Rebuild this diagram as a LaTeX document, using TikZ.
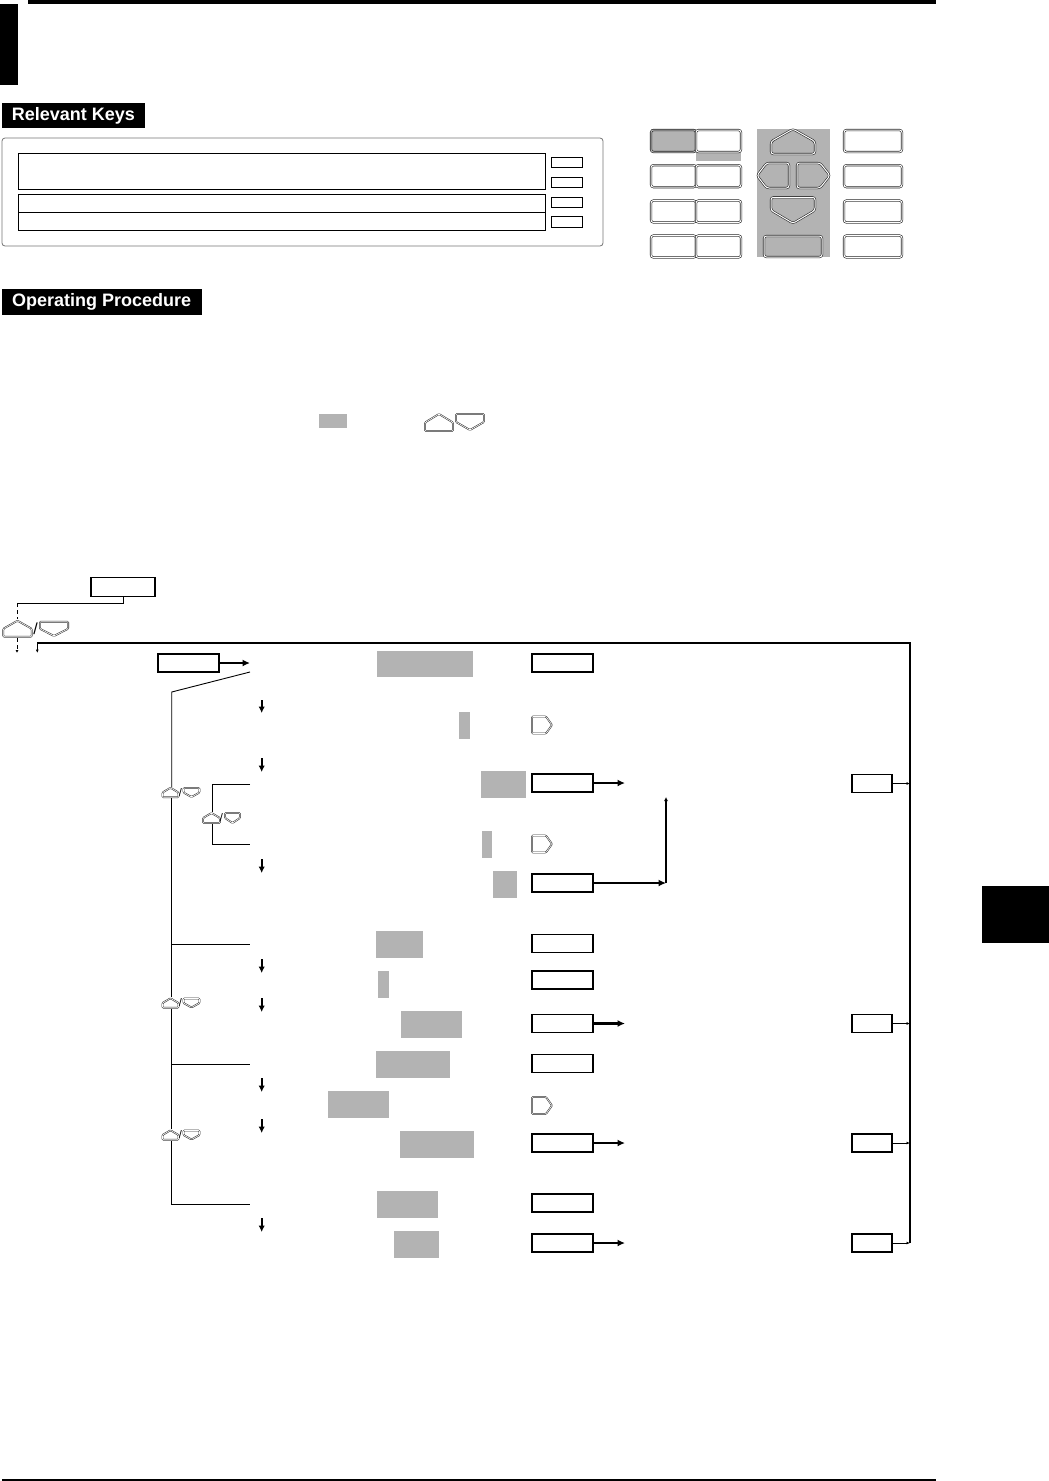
\documentclass[tikz,border=0pt]{standalone}
\usepackage{fontspec}
\setmainfont{Liberation Sans}
\usepackage{tikz}
\usetikzlibrary{arrows.meta,positioning,calc}
\definecolor{keyGray}{HTML}{B3B3B3}

\tikzset{
  upkey/.pic={\path[pic actions] (-0.5,0.5) -- (-0.5,0) -- (0,-0.5) -- (0.5,0) -- (0.5,0.5) -- cycle;},
  downkey/.pic={\path[pic actions] (-0.5,-0.5) -- (0.5,-0.5) -- (0.5,0) -- (0,0.5) -- (-0.5,0) -- cycle;},
  leftkey/.pic={\path[pic actions] (0.5,-0.5) -- (0.5,0.5) -- (-0.2,0.5) -- (-0.5,0) -- (-0.2,-0.5) -- cycle;},
  rightkey/.pic={\path[pic actions] (-0.5,-0.5) -- (0.2,-0.5) -- (0.5,0) -- (0.2,0.5) -- (-0.5,0.5) -- cycle;},
}

\begin{document}
\begin{tikzpicture}[x=1pt, y=-1pt,
  keycap/.style={draw=black!85, double=white, double distance=1pt,
                 line width=0.6pt, rounded corners=2.5pt, inner sep=0},
  iconcap/.style={draw=black!80, double=white, double distance=0.6pt,
                  line width=0.55pt, rounded corners=1pt},
  menubox/.style={draw, line width=1.1pt, minimum width=61pt,
                  minimum height=18pt, inner sep=0},
  tagbox/.style={menubox, minimum width=40pt},
  hilite/.style={fill=keyGray},
  flow/.style={line width=0.9pt},
  thickarrow/.style={line width=2.8pt, -{Latex[length=7.5pt,width=7pt]}},
  downarrow/.style={line width=2.3pt, -{Latex[length=6.5pt,width=6.5pt]}},
  stub/.style={line width=0.9pt, -{Latex[length=3.5pt,width=3pt]}},
  heading/.style={fill=black, text=white, inner sep=0, minimum height=25pt,
                  font=\bfseries\fontsize{18}{20}\selectfont},
  slash/.style={inner sep=0, font=\fontsize{11}{11}\selectfont},
]
\useasboundingbox (0,0) rectangle (1049,1481);

% page furniture
\fill (0,4) rectangle (18,85);
\fill (28,0) rectangle (936,4);
\fill (982,886) rectangle (1049,943);
\fill (2,1479.3) rectangle (936,1481);

% relevant keys
\node[heading, minimum width=143pt] (keysHead) at (73.5,115.5) {Relevant Keys};
\draw[black!55, line width=0.8pt, rounded corners=3pt] (2,138) rectangle (603,246);
\draw[line width=0.8pt] (18.6,153) rectangle (545,189);
\draw[line width=0.8pt] (18.6,194) rectangle (545,230);
\draw[line width=0.8pt] (18.6,212) -- (545,212);
\foreach \ya/\yb in {157/167,177/187,197/207,216/227}
  \draw[line width=0.8pt] (551,\ya) rectangle (582,\yb);

% keypad
\fill[keyGray] (651,129) rectangle (696,152);
\fill[keyGray] (696,152) rectangle (741,161);
\fill[keyGray] (757,129) rectangle (830,257);
\foreach \row/\y/\shade in {1/141/keyGray, 2/176.2/white, 3/211.5/white, 4/246.5/white} {
  \node[keycap, fill=\shade, double=\shade, minimum width=45pt, minimum height=22pt] (numA\row) at (673.5,\y) {};
  \node[keycap, fill=white, minimum width=45pt, minimum height=22pt] (numB\row) at (718.5,\y) {};
  \node[keycap, fill=white, minimum width=58pt, minimum height=22pt] (fnKey\row) at (873,\y) {};
}
\pic[keycap, fill=keyGray, xscale=44, yscale=25] at (793,141.5) {upkey};
\pic[keycap, fill=keyGray, xscale=32, yscale=25] at (773,175.5) {leftkey};
\pic[keycap, fill=keyGray, xscale=33, yscale=25] at (813.5,175.5) {rightkey};
\pic[keycap, fill=keyGray, xscale=44, yscale=26] at (793,210.3) {downkey};
\node[keycap, fill=keyGray, minimum width=58pt, minimum height=21pt] (enterKey) at (793,246.5) {};

% operating procedure
\node[heading, minimum width=200pt, minimum height=26pt] (procHead) at (101.7,302) {Operating Procedure};
\fill[hilite] (319,414) rectangle (347,428);
\pic[iconcap, xscale=28, yscale=17] at (439,422.5) {upkey};
\pic[iconcap, xscale=28, yscale=16] at (470,422) {downkey};

% entry into the menu
\node[menubox, line width=1.5pt, minimum width=64pt, minimum height=19pt] (dispKey) at (123,587) {};
\coordinate (selTop) at (17,603);
\coordinate (retTop) at (910,643);
\coordinate (retBot) at (910,1243);
\draw[flow] (dispKey.south) |- (selTop);
\draw[flow, dash pattern=on 4pt off 3pt] (selTop) -- (17,619);
\pic[iconcap, xscale=28.4, yscale=16] at (17.5,628.7) {upkey};
\node[slash, font=\fontsize{16}{16}\selectfont] (selSlash) at (35.5,628.5) {/};
\pic[iconcap, xscale=28.3, yscale=14.3] at (54,628.8) {downkey};
\draw[flow, dash pattern=on 4pt off 3pt, -{Latex[length=3pt,width=3pt]}] (17,638) -- (17,653);
\draw[line width=1.1pt, -{Latex[length=3.5pt,width=3pt]}] (retBot) -- (retTop) -| (37.3,653);

% main bracket
\node[menubox] (stepStart) at (188.5,663) {};
\coordinate (goStart) at (250,663);
\draw[thickarrow] (stepStart.east) -- (goStart);
\draw[flow] (250,672) -- (171.7,692) -- (171.7,787);
\draw[flow] (171.7,798) -- (171.7,997);
\draw[flow] (171.7,944) -- (250,944);
\draw[flow] (171.7,1009) -- (171.7,1129);
\draw[flow] (171.7,1064) -- (250,1064);
\draw[flow] (171.7,1141) -- (171.7,1204) -- (250,1204);
\draw[flow] (250,784) -| (212.7,812);
\draw[flow] (212.7,824) |- (250,844);
\foreach \y in {792.5, 1003, 1135} {
  \pic[iconcap, xscale=16, yscale=9.5] at (170.5,\y) {upkey};
  \node[slash] at (180.5,\y) {/};
  \pic[iconcap, xscale=16, yscale=9] at (191.5,\y) {downkey};
}
\pic[iconcap, xscale=17, yscale=10] at (211.5,818) {upkey};
\node[slash] (innerSlash) at (221.5,818) {/};
\pic[iconcap, xscale=15, yscale=10] at (232.5,818) {downkey};
\foreach \ya/\yb in {700/713, 758/772, 859/873, 959/973, 998/1012, 1078/1092, 1119/1133, 1218/1232}
  \draw[downarrow] (261.7,\ya) -- (261.7,\yb);

% highlighted settings
\foreach \xa/\ya/\xb/\yb in {376.7/651/473/677, 459/712/470/739, 480.7/771/525.7/797.7,
    482/830.7/492/857.7, 493/871/517/898, 376/931/423/957.7, 378/971/388.7/997.7,
    401/1011/461.7/1037.7, 376/1051/450/1077.7, 328/1091/388.7/1117.7,
    400/1131/473.7/1157.7, 377/1191/437.7/1217.7, 394/1231/438.7/1257.7}
  \fill[hilite] (\xa,\ya) rectangle (\xb,\yb);

% key column
\foreach \n/\y in {1/663, 2/783, 3/883, 4/943.5, 5/980, 6/1023.5, 7/1063.5, 8/1143, 9/1203, 10/1243}
  \node[menubox] (val\n) at (562.5,\y) {};
\foreach \y in {725, 844, 1105.5}
  \pic[iconcap, xscale=20, yscale=17] at (542,\y) {rightkey};
\coordinate (bend) at (666,883);
\draw[thickarrow] (val2.east) -- (625,783);
\draw[thickarrow] (val3.east) -- (bend);
\draw[line width=1.5pt, -{Latex[length=4pt,width=4pt]}] (bend) -- (666,797);
\draw[thickarrow] (val6.east) -- (625,1023.5);
\draw[thickarrow] (val8.east) -- (625,1143);
\draw[thickarrow] (val10.east) -- (625,1243);

% returns
\foreach \n/\y in {1/783.5, 2/1023.5, 3/1143, 4/1243} {
  \node[tagbox] (tag\n) at (872,\y) {};
  \draw[stub] (tag\n.east) -- (tag\n.east -| retTop);
}
\end{tikzpicture}
\end{document}
